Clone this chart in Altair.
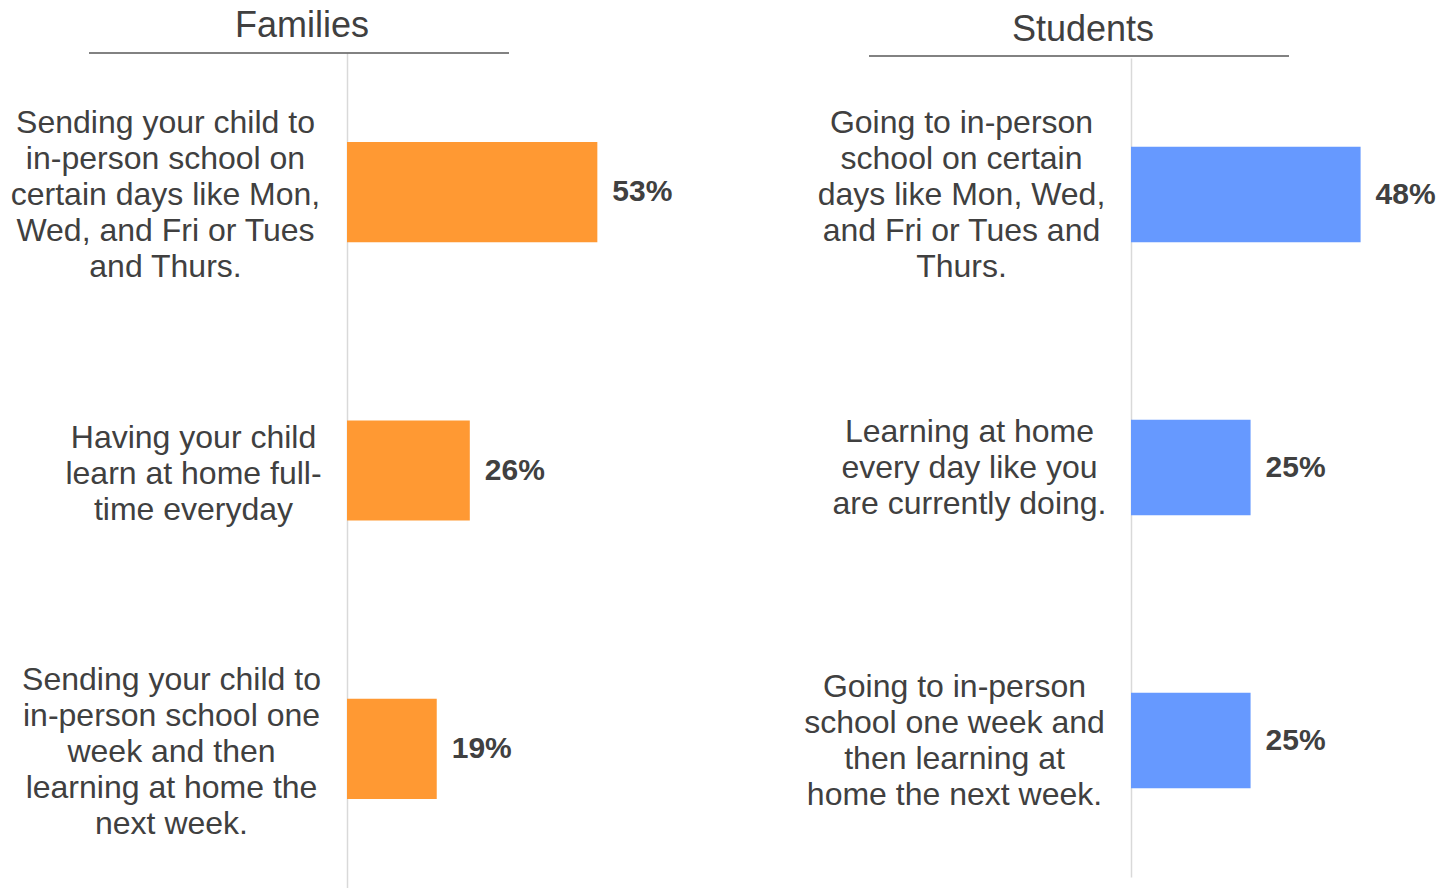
import altair as alt
import pandas as pd

# ---- data ----
titles = ["Families", "Students"]

fam_labels = [
    "Sending your child to\nin-person school on\ncertain days like Mon,\nWed, and Fri or Tues\nand Thurs.",
    "Having your child\nlearn at home full-\ntime everyday",
    "Sending your child to\nin-person school one\nweek and then\nlearning at home the\nnext week.",
]
fam_values = [53, 26, 19]

stu_labels = [
    "Going to in-person\nschool on certain\ndays like Mon, Wed,\nand Fri or Tues and\nThurs.",
    "Learning at home\nevery day like you\nare currently doing.",
    "Going to in-person\nschool one week and\nthen learning at\nhome the next week.",
]
stu_values = [48, 25, 25]

FONT = "Liberation Sans"
TEXT = "#404040"
LINE_H = 36


def panel(labels, values, color, title, xmax, width, height, yrange, pad_inner, pad_expr,
          label_shift, title_x, title_y, rule_x, rule_x2, rule_y):
    df = pd.DataFrame({"category": labels, "value": values})
    base = alt.Chart(df).encode(
        y=alt.Y(
            "category:N", sort=None, title=None,
            scale=alt.Scale(paddingInner=pad_inner, paddingOuter=pad_inner / 2,
                            range=yrange),
            axis=alt.Axis(
                labelExpr="split(datum.label, '\\n')",
                labelAlign="center", labelBaseline="middle",
                labelPadding=alt.ExprRef(expr=pad_expr),
                labelOffset=alt.ExprRef(
                    expr=f"-(length(split(datum.label, '\\n')) - 1) * {LINE_H / 2} + {label_shift}"
                ),
                ticks=False, tickSize=0, grid=False,
                domainColor="#D9D9D9", domainWidth=1.5,
                labelFont=FONT, labelFontSize=32, labelLineHeight=LINE_H,
                labelColor=TEXT, labelLimit=600,
            ),
        )
    )
    xenc = alt.X("value:Q", scale=alt.Scale(domain=[0, xmax]), axis=None)
    bars = base.mark_bar(color=color).encode(x=xenc)
    text = base.transform_calculate(txt="datum.value + '%'").mark_text(
        align="left", baseline="middle", dx=15, font=FONT, fontSize=30,
        fontWeight="bold", color=TEXT,
    ).encode(x=xenc, text="txt:N")
    tdf = pd.DataFrame({"t": [title]})
    ttl = alt.Chart(tdf).mark_text(
        font=FONT, fontSize=36, color=TEXT, align="center", baseline="middle"
    ).encode(text="t:N", x=alt.value(title_x), y=alt.value(title_y))
    rule = alt.Chart(tdf).mark_rule(color="#595959", strokeWidth=1.5).encode(
        x=alt.value(rule_x), x2=alt.value(rule_x2), y=alt.value(rule_y)
    )
    return alt.layer(bars, text, ttl, rule).properties(width=width, height=height)


fam = panel(fam_labels, fam_values, "#FF9933", titles[0], 94, 444, 835, [0, 835], 0.64,
            "datum.index < 0.25 ? 182 : datum.index < 0.75 ? 154 : 176", 3,
            -45, -27, -258, 162, 0)
stu = panel(stu_labels, stu_values, "#6699FF", titles[1], 60, 287, 824, [5, 824], 0.65,
            "datum.index < 0.25 ? 170 : datum.index < 0.75 ? 162 : 177", 0,
            -48, -23, -262, 158, 3)

chart = (
    alt.hconcat(fam, stu, spacing=340, bounds="flush")
    .resolve_scale(x="independent", y="independent")
    .properties(padding={"left": 2, "top": 0, "right": 0, "bottom": 0}, background="white")
    .configure_view(strokeWidth=0)
)

chart.save("out.html", embed_options={"renderer": "svg", "actions": False})
